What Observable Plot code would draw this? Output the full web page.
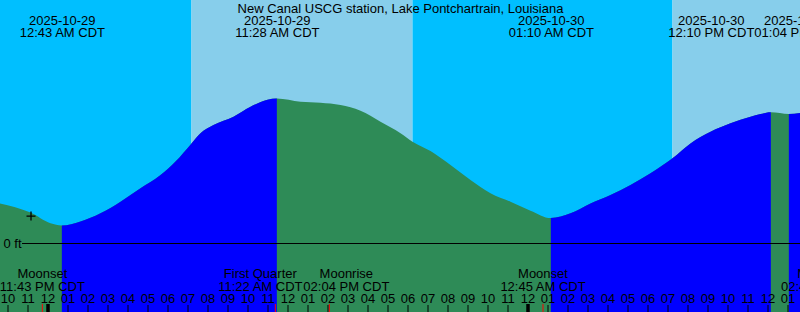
<!DOCTYPE html>
<html><head><meta charset="utf-8">
<script src="https://cdn.jsdelivr.net/npm/d3@7"></script>
<script src="https://cdn.jsdelivr.net/npm/@observablehq/plot@0.6"></script>
<style>
html,body{margin:0;padding:0;background:#fff;}
#chart svg{display:block;}
</style>
</head><body><div id="chart"></div>
<script>
// ---------------- data ----------------
const title = "New Canal USCG station, Lake Pontchartrain, Louisiana";
const tzName = "CDT";
const units = "ft";
const domainTimes = ["2025-10-28 21:37:30", "2025-10-30 13:37:30"];

const tideEventTimes = ["2025-10-29 00:43", "2025-10-29 11:28", "2025-10-30 01:10", "2025-10-30 12:10", "2025-10-30 13:04"];
const tideEventTypes = ["low", "high", "low", "high", "low"];
const tideEventHeights = [0.07, 0.58, 0.10, 0.525, 0.518];

const curveTimes = [
  "2025-10-28 21:37", "2025-10-28 23:09", "2025-10-29 00:09", "2025-10-29 01:39", "2025-10-29 02:39",
  "2025-10-29 03:39", "2025-10-29 04:39", "2025-10-29 05:39", "2025-10-29 06:24", "2025-10-29 07:12",
  "2025-10-29 07:39", "2025-10-29 08:18", "2025-10-29 09:18", "2025-10-29 10:09", "2025-10-29 11:00",
  "2025-10-29 12:39", "2025-10-29 13:39", "2025-10-29 14:39", "2025-10-29 15:39", "2025-10-29 16:39",
  "2025-10-29 17:39", "2025-10-29 18:15", "2025-10-29 19:09", "2025-10-29 20:09", "2025-10-29 21:09",
  "2025-10-29 22:09", "2025-10-29 23:09", "2025-10-30 00:09", "2025-10-30 02:09", "2025-10-30 03:09",
  "2025-10-30 04:09", "2025-10-30 05:09", "2025-10-30 06:09", "2025-10-30 07:15", "2025-10-30 08:09",
  "2025-10-30 09:09", "2025-10-30 10:09", "2025-10-30 11:09", "2025-10-30 11:39", "2025-10-30 13:38"
];
const curveHeights = [
  0.159, 0.122, 0.079, 0.086, 0.119,
  0.166, 0.220, 0.273, 0.327, 0.400,
  0.441, 0.474, 0.507, 0.547, 0.575,
  0.567, 0.563, 0.554, 0.531, 0.487,
  0.441, 0.407, 0.369, 0.313, 0.253,
  0.200, 0.166, 0.130, 0.119, 0.159,
  0.193, 0.233, 0.280, 0.340, 0.400,
  0.447, 0.481, 0.507, 0.518, 0.522
];

const sunTimes = ["2025-10-29 07:12", "2025-10-29 18:15", "2025-10-30 07:15"];
const sunTypes = ["sunrise", "sunset", "sunrise"];

const moonTimes = ["2025-10-28 23:43", "2025-10-29 11:22", "2025-10-29 14:04", "2025-10-30 00:45", "2025-10-30 14:48"];
const moonNames = ["Moonset", "First Quarter", "Moonrise", "Moonset", "Moonrise"];

const nowTime = "2025-10-28 23:09";
const nowHeight = 0.11;
const zeroLevel = [0];

// ---------------- layout / style ----------------
const W = 800, H = 312;
const ZERO_PX = 243, PX_PER_FT = 249;
const yDomain = [(ZERO_PX - H) / PX_PER_FT, ZERO_PX / PX_PER_FT];
const FONT = "'Liberation Sans', Arial, Helvetica, sans-serif";
const FS = 13;
const NIGHT = "#00bfff", DAY = "#87ceeb", RISE = "#0000ff", FALL = "#2e8b57", MOONRED = "#ff0000";
const EVENT_DX = [0, 0, 0, -60, 8];
const MOON_DX = [0, -15, 17, 0, 0];

// ---------------- derived ----------------
const parse = d3.utcParse("%Y-%m-%d %H:%M");
const parseSec = d3.utcParse("%Y-%m-%d %H:%M:%S");
const fmtDate = d3.utcFormat("%Y-%m-%d");
const fmtTime = d3.utcFormat("%I:%M %p");
const fmtHour = d3.utcFormat("%I");
const domain = domainTimes.map(parseSec);

const events = tideEventTimes.map((t, i) => ({time: parse(t), type: tideEventTypes[i], height: tideEventHeights[i]}));
const tide = curveTimes.map((t, i) => ({time: parse(t), height: curveHeights[i]}))
  .concat(events.map(e => ({time: e.time, height: e.height})))
  .sort((a, b) => a.time - b.time);

const tideBounds = [domain[0], ...events.map(e => e.time), domain[1]];
const tideIntervals = tideBounds.slice(0, -1).map((s, i) => ({
  start: s, end: tideBounds[i + 1],
  rising: i < events.length ? events[i].type === "high" : events[events.length - 1].type === "low"
}));

const suns = sunTimes.map((t, i) => ({time: parse(t), type: sunTypes[i]}));
const sunBounds = [domain[0], ...suns.map(s => s.time), domain[1]];
const skyIntervals = sunBounds.slice(0, -1).map((s, i) => ({
  start: s, end: sunBounds[i + 1],
  day: i < suns.length ? suns[i].type === "sunset" : suns[suns.length - 1].type === "sunrise"
}));

const moons = moonTimes.map((t, i) => ({time: parse(t), name: moonNames[i]}));
const hours = d3.utcHour.range(domain[0], domain[1]);
const midnights = hours.filter(d => d.getUTCHours() === 0);
const now = [{time: parse(nowTime), height: nowHeight}];

const plusSymbol = {
  draw(ctx, size) {
    const r = Math.sqrt(size / Math.PI);
    ctx.moveTo(-r, 0); ctx.lineTo(r, 0);
    ctx.moveTo(0, -r); ctx.lineTo(0, r);
  }
};

const chart = Plot.plot({
  width: W, height: H, margin: 0,
  x: {type: "utc", domain, axis: null},
  y: {domain: yDomain, axis: null},
  color: {type: "identity"},
  style: {background: "none", fontFamily: FONT, fontSize: FS + "px", color: "black", overflow: "hidden"},
  marks: [
    Plot.rect(skyIntervals, {x1: "start", x2: "end", y1: yDomain[0], y2: yDomain[1], fill: d => d.day ? DAY : NIGHT}),
    Plot.areaY(tide, {x: "time", y1: yDomain[0], y2: "height", fill: FALL, curve: "monotone-x"}),
    Plot.areaY(tide, {x: "time", y1: yDomain[0], y2: "height", fill: RISE, curve: "monotone-x"}),
    Plot.ruleY(zeroLevel, {stroke: "black", strokeWidth: 1, insetLeft: 22}),
    Plot.text(zeroLevel, {y: d => d, text: d => `${d} ${units}`, frameAnchor: "left", textAnchor: "start", dx: 3, fontSize: FS, fontFamily: FONT}),
    Plot.dot(now, {x: "time", y: "height", symbol: plusSymbol, r: 4.5, stroke: "black", fill: "none", strokeWidth: 1.3}),
    Plot.ruleX(hours, {x: d => d, stroke: "black", strokeWidth: 1, insetTop: 305}),
    Plot.ruleX(midnights, {x: d => d, stroke: "black", strokeWidth: 3.5, insetTop: 304}),
    Plot.ruleX(moons, {x: "time", stroke: MOONRED, strokeWidth: 1, insetTop: 304}),
    Plot.text(hours, {x: d => d, text: d => fmtHour(d), frameAnchor: "bottom", lineAnchor: "bottom", dy: -10, fontSize: FS, fontFamily: FONT}),
    ...moons.map((m, i) => Plot.text([m], {
      x: "time", text: d => `${d.name}\n${fmtTime(d.time)} ${tzName}`,
      frameAnchor: "bottom", lineAnchor: "bottom", dy: -22, dx: MOON_DX[i], lineHeight: 0.96, fontSize: FS, fontFamily: FONT
    })),
    Plot.text([title], {text: d => d, frameAnchor: "top", lineAnchor: "bottom", dy: 12, fontSize: FS, fontFamily: FONT}),
    ...events.map((e, i) => Plot.text([e], {
      x: "time", text: d => `${fmtDate(d.time)}\n${fmtTime(d.time)} ${tzName}`,
      frameAnchor: "top", lineAnchor: "bottom", dy: 36, dx: EVENT_DX[i], lineHeight: 0.92, fontSize: FS, fontFamily: FONT
    }))
  ]
});

// clip the rising-tide fill to the rising intervals (computed through Plot's x scale)
const xs = chart.scale("x");
const svg = d3.select(chart);
const defs = svg.insert("defs", ":first-child");
const cp = defs.append("clipPath").attr("id", "rising-clip");
tideIntervals.filter(d => d.rising).forEach(d => {
  const a = xs.apply(d.start), b = xs.apply(d.end);
  cp.append("rect").attr("x", a).attr("y", 0).attr("width", b - a).attr("height", H);
});
let areas = svg.selectAll('g[aria-label="area"]');
let riseG = areas.filter(function () { return (this.getAttribute("fill") || "").toLowerCase() === RISE; });
if (riseG.empty()) riseG = areas.filter((d, i) => i === 1);
riseG.attr("clip-path", "url(#rising-clip)");

document.getElementById("chart").appendChild(chart);
</script>
</body></html>
